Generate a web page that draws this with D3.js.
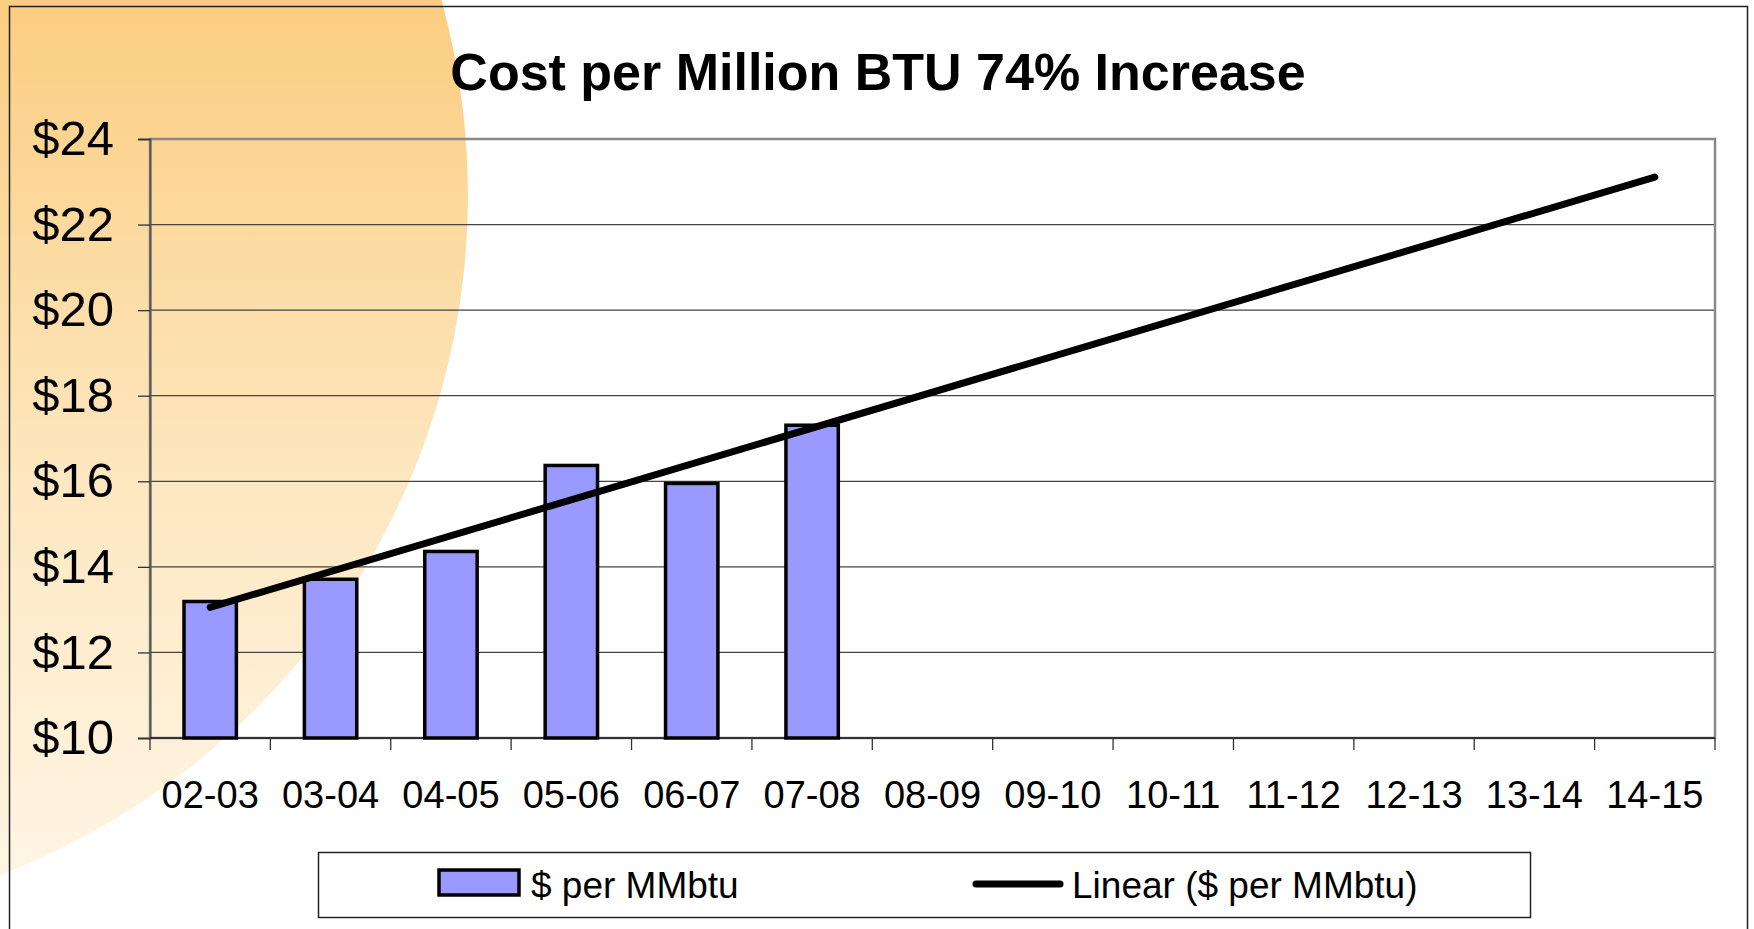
<!DOCTYPE html>
<html>
<head>
<meta charset="utf-8">
<script src="https://cdn.jsdelivr.net/npm/d3@7"></script>
<style>
  html, body { margin: 0; padding: 0; background: #fff; overflow: hidden; }
  svg { display: block; font-family: 'Liberation Sans', Arial, sans-serif; }
</style>
</head>
<body>
<svg id="chart"></svg>
<script>
// Data
const categories = ['02-03', '03-04', '04-05', '05-06', '06-07', '07-08', '08-09',
  '09-10', '10-11', '11-12', '12-13', '13-14', '14-15'];
const costPerMMbtu = [13.19, 13.71, 14.36, 16.37, 15.95, 17.31];
const yTicks = [10, 12, 14, 16, 18, 20, 22, 24];
const chartTitle = 'Cost per Million BTU 74% Increase';
const legendLabels = ['$ per MMbtu', 'Linear ($ per MMbtu)'];

const W = 1754, H = 929;
const margin = { top: 139, right: 39, bottom: 191, left: 150 };
const plotW = W - margin.left - margin.right;
const plotH = H - margin.top - margin.bottom;

const svg = d3.select('#chart').attr('width', W).attr('height', H);

// Background: big orange circle coming in from the left
const defs = svg.append('defs');
const grad = defs.append('linearGradient')
  .attr('id', 'sunGrad')
  .attr('gradientUnits', 'userSpaceOnUse')
  .attr('x1', 0).attr('y1', 0).attr('x2', 0).attr('y2', 900);
grad.append('stop').attr('offset', '0%').attr('stop-color', '#fbcd80');
grad.append('stop').attr('offset', '55%').attr('stop-color', '#fde8c2');
grad.append('stop').attr('offset', '100%').attr('stop-color', '#fff6e6');

svg.append('circle')
  .attr('cx', -260)
  .attr('cy', 195)
  .attr('r', 728)
  .attr('fill', 'url(#sunGrad)');

// Chart area border
svg.append('rect')
  .attr('x', 9.5).attr('y', 6.5)
  .attr('width', 1738).attr('height', 1000)
  .attr('fill', 'none')
  .attr('stroke', '#222')
  .attr('stroke-width', 1.5);

// Title
svg.append('text')
  .attr('x', 878)
  .attr('y', 90)
  .attr('text-anchor', 'middle')
  .attr('font-weight', 'bold')
  .attr('font-size', '52px')
  .attr('fill', '#000')
  .text(chartTitle);

const g = svg.append('g').attr('transform', `translate(${margin.left},${margin.top})`);

// Scales
const x = d3.scaleBand().domain(categories).range([0, plotW]).paddingInner(0).paddingOuter(0);
const y = d3.scaleLinear().domain([10, 24]).range([plotH, 0]);
const barW = x.bandwidth() * 0.435;

// Gridlines
g.selectAll('.grid')
  .data(yTicks.filter((d) => d > 10 && d < 24))
  .enter()
  .append('line')
  .attr('class', 'grid')
  .attr('x1', 0).attr('x2', plotW)
  .attr('y1', (d) => y(d)).attr('y2', (d) => y(d))
  .attr('stroke', '#444')
  .attr('stroke-width', 1.3);

// Plot area border
g.append('rect')
  .attr('x', 0).attr('y', 0)
  .attr('width', plotW).attr('height', plotH)
  .attr('fill', 'none')
  .attr('stroke', '#888')
  .attr('stroke-width', 2.5);

// Y axis
const yAxis = g.append('g')
  .call(d3.axisLeft(y).tickValues(yTicks).tickSize(12).tickPadding(24)
    .tickFormat((d) => '$' + d));
yAxis.select('.domain').attr('stroke', '#555').attr('stroke-width', 2);
yAxis.selectAll('.tick line').attr('stroke', '#333').attr('stroke-width', 1.3);
yAxis.selectAll('.tick text')
  .attr('font-size', '49px')
  .attr('font-family', "'Liberation Sans', Arial, sans-serif")
  .attr('fill', '#000');

// X axis: ticks on category boundaries
const xAxisG = g.append('g').attr('transform', `translate(0,${plotH})`);
xAxisG.append('line')
  .attr('x1', 0).attr('x2', plotW).attr('y1', 0).attr('y2', 0)
  .attr('stroke', '#333').attr('stroke-width', 2);
xAxisG.selectAll('.xtick')
  .data(categories.concat(['end']))
  .enter()
  .append('line')
  .attr('class', 'xtick')
  .attr('x1', (d, i) => i * x.step()).attr('x2', (d, i) => i * x.step())
  .attr('y1', 0).attr('y2', 12)
  .attr('stroke', '#333')
  .attr('stroke-width', 1.3);
xAxisG.selectAll('.xlabel')
  .data(categories)
  .enter()
  .append('text')
  .attr('class', 'xlabel')
  .attr('x', (d) => x(d) + x.bandwidth() / 2)
  .attr('y', 70)
  .attr('text-anchor', 'middle')
  .attr('font-size', '38px')
  .attr('fill', '#000')
  .text((d) => d);

// Bars
g.selectAll('.bar')
  .data(costPerMMbtu)
  .enter()
  .append('rect')
  .attr('class', 'bar')
  .attr('x', (d, i) => x(categories[i]) + (x.bandwidth() - barW) / 2)
  .attr('y', (d) => y(d))
  .attr('width', barW)
  .attr('height', (d) => plotH - y(d))
  .attr('fill', '#9999ff')
  .attr('stroke', '#000')
  .attr('stroke-width', 3.5);

// Linear trend line (least squares over the bars), extended to the last category
const n = costPerMMbtu.length;
const mx = d3.mean(d3.range(n));
const my = d3.mean(costPerMMbtu);
const slope = d3.sum(costPerMMbtu, (v, i) => (i - mx) * (v - my)) /
  d3.sum(d3.range(n), (i) => (i - mx) * (i - mx));
const intercept = my - slope * mx;
const trend = categories.map((c, i) => ({ c, v: intercept + slope * i }));

g.append('path')
  .datum([trend[0], trend[trend.length - 1]])
  .attr('d', d3.line()
    .x((d) => x(d.c) + x.bandwidth() / 2)
    .y((d) => y(d.v)))
  .attr('fill', 'none')
  .attr('stroke', '#000')
  .attr('stroke-width', 7)
  .attr('stroke-linecap', 'round');

// Legend
const legend = svg.append('g').attr('transform', 'translate(318,852)');
legend.append('rect')
  .attr('x', 0.5).attr('y', 0.5)
  .attr('width', 1212).attr('height', 65)
  .attr('fill', '#fff')
  .attr('stroke', '#222')
  .attr('stroke-width', 1.5);
legend.append('rect')
  .attr('x', 121).attr('y', 18)
  .attr('width', 80).attr('height', 25)
  .attr('fill', '#9999ff')
  .attr('stroke', '#000')
  .attr('stroke-width', 3.5);
legend.append('text')
  .attr('x', 213).attr('y', 46)
  .attr('font-size', '37px')
  .attr('fill', '#000')
  .text(legendLabels[0]);
legend.append('line')
  .attr('x1', 658).attr('x2', 742)
  .attr('y1', 32).attr('y2', 32)
  .attr('stroke', '#000')
  .attr('stroke-width', 7)
  .attr('stroke-linecap', 'round');
legend.append('text')
  .attr('x', 754).attr('y', 46)
  .attr('font-size', '37px')
  .attr('fill', '#000')
  .text(legendLabels[1]);
</script>
</body>
</html>
